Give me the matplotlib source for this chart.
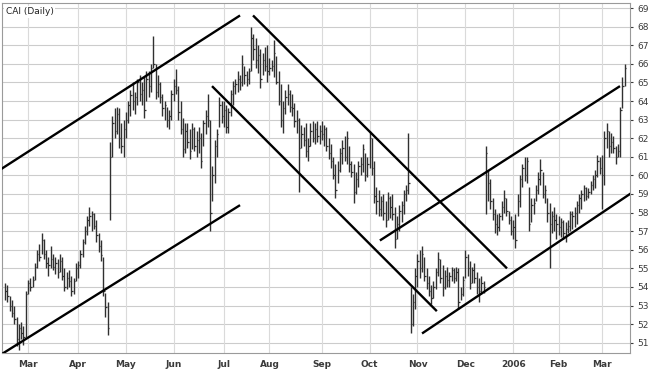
import numpy as np
import pandas as pd
import matplotlib
matplotlib.use("Agg")
import matplotlib.pyplot as plt

# CAI daily bars, 2005-02-14 .. 2006-03-15
highs = [
    # Feb
    54.2, 54.1, 53.5, 53.3, 53.0, 52.4, 52.0, 52.1, 51.9, 53.8,
    # Mar
    54.4, 54.5, 54.6, 55.3, 56.0, 56.3, 56.9, 56.6, 56.0, 55.6, 56.2,
    55.8, 55.6, 55.5, 55.8, 55.6, 55.0, 54.8, 54.9, 54.6, 54.5, 55.3,
    # Apr
    55.4, 56.0, 56.6, 57.3, 57.8, 58.3, 58.1, 58.0, 57.6, 56.9, 56.5,
    55.6, 53.7, 53.2, 61.8, 63.2, 63.6, 63.7, 63.6, 62.8, 63.0,
    # May
    63.4, 64.0, 64.6, 65.0, 64.5, 65.2, 65.4, 65.0, 65.3, 65.6, 65.6,
    66.0, 67.5, 66.0, 65.4, 65.0, 64.4, 64.0, 63.7, 63.5, 64.6,
    # Jun
    65.2, 65.7, 64.8, 64.0, 63.1, 62.8, 62.8, 62.5, 62.8, 62.6, 62.4,
    62.6, 62.3, 63.0, 63.5, 64.4, 63.0, 60.5, 61.9, 62.5, 64.2, 64.0,
    # Jul
    64.0, 63.8, 63.6, 64.6, 65.1, 65.2, 65.6, 65.4, 66.5, 65.9, 65.6,
    65.8, 68.0, 67.6, 67.4, 67.0, 66.8, 66.6, 66.9, 67.0,
    # Aug
    66.3, 66.2, 67.3, 66.4, 65.6, 64.9, 64.0, 64.6, 64.9, 64.6, 64.4,
    63.9, 63.5, 63.1, 62.7, 62.6, 62.8, 62.0, 62.8, 62.9, 62.8, 62.9, 62.7,
    # Sep
    62.9, 62.7, 62.6, 62.0, 61.7, 61.0, 60.6, 60.8, 61.5, 61.9, 62.1,
    62.4, 61.6, 60.8, 60.6, 60.2, 60.8, 61.0, 61.7, 61.2, 61.0,
    # Oct
    62.4, 62.0, 60.8, 59.4, 59.2, 58.9, 59.0, 58.6, 59.1, 58.9, 59.0,
    58.3, 57.8, 58.4, 58.6, 59.2, 59.5, 62.3, 54.0, 53.6, 55.0,
    # Nov
    55.8, 56.0, 56.2, 55.6, 55.0, 54.6, 54.1, 54.3, 55.0, 55.9, 55.5,
    55.2, 54.9, 55.1, 54.8, 55.1, 55.0, 55.1, 55.0, 54.0, 54.6,
    # Dec
    56.0, 55.8, 55.4, 55.1, 55.3, 54.8, 54.5, 54.6, 54.3, 61.6, 60.3,
    59.8, 58.8, 58.2, 57.9, 58.0, 58.6, 59.2, 58.8, 58.1, 57.8,
    # Jan 2006
    57.6, 57.9, 59.0, 60.0, 60.6, 61.0, 61.0, 59.4, 58.8, 58.8, 59.5,
    60.2, 60.9, 60.2, 59.5, 58.8, 58.5, 58.1, 58.3, 57.9,
    # Feb
    57.8, 57.7, 57.6, 57.5, 57.6, 58.1, 58.1, 58.3, 58.6, 59.0, 59.2,
    59.5, 59.4, 59.3, 59.7, 60.0, 60.3, 61.1, 61.0,
    # Mar
    61.1, 62.4, 62.8, 62.4, 62.3, 62.1, 61.6, 61.7, 63.7, 65.3, 66.0,
]
lows = [
    53.3, 53.2, 52.7, 52.4, 52.0, 50.8, 50.6, 51.2, 50.9, 51.3,
    53.6, 53.8, 54.0, 54.4, 55.0, 55.4, 55.8, 55.5, 55.0, 54.6, 55.0,
    54.9, 54.7, 54.5, 54.8, 54.4, 53.8, 53.9, 54.0, 53.5, 53.6, 54.3,
    54.5, 55.0, 55.6, 56.3, 56.8, 57.3, 57.0, 57.1, 56.4, 55.9, 55.4,
    53.5, 52.4, 51.4, 57.6, 61.0, 62.0, 62.2, 61.5, 61.2, 61.0,
    62.0, 62.8, 63.2, 63.5, 63.3, 63.8, 64.0, 63.8, 63.1, 64.0, 64.2,
    64.5, 65.8, 64.1, 64.2, 63.9, 63.2, 63.0, 62.6, 62.5, 63.0,
    64.0, 64.4, 63.0, 62.2, 61.0, 61.2, 61.5, 60.9, 61.4, 61.3, 61.0,
    61.2, 60.4, 61.6, 62.2, 62.6, 57.0, 58.6, 59.6, 61.0, 62.6, 62.8,
    62.6, 62.3, 62.3, 63.2, 63.8, 64.4, 64.5, 64.6, 64.8, 64.9, 64.8,
    64.9, 65.6, 66.2, 65.8, 65.5, 64.7, 65.4, 65.6, 65.0,
    65.4, 65.6, 65.3, 64.9, 63.8, 62.6, 62.3, 63.3, 63.8, 63.4, 63.2,
    62.6, 62.3, 59.1, 61.5, 61.6, 61.0, 60.8, 61.6, 61.8, 61.7, 61.8, 61.7,
    61.9, 61.6, 61.3, 60.9, 60.4, 59.8, 58.8, 59.6, 60.2, 60.6, 60.8,
    60.6, 60.2, 59.9, 58.5, 59.0, 59.4, 60.0, 60.2, 59.7, 59.9,
    60.4, 60.0, 58.5, 57.9, 57.8, 57.8, 57.6, 57.2, 57.6, 57.7, 57.6,
    56.1, 56.6, 57.0, 57.5, 57.9, 58.6, 59.0, 51.5, 51.9, 52.8,
    54.0, 54.5, 54.8, 54.3, 53.9, 53.5, 53.1, 53.4, 53.9, 54.6, 54.2,
    53.5, 53.9, 54.0, 54.0, 54.3, 54.2, 54.3, 52.8, 53.3, 53.5,
    54.5, 54.6, 53.9, 54.2, 54.2, 53.6, 53.2, 53.6, 53.7, 57.9, 58.6,
    58.2, 57.6, 56.9, 56.8, 57.0, 57.6, 58.0, 57.8, 57.4, 56.8,
    56.6, 56.1, 57.8, 58.3, 59.4, 59.7, 59.6, 57.0, 57.5, 57.9, 58.6,
    59.0, 59.5, 58.8, 58.5, 57.5, 55.0, 56.9, 57.0, 56.6,
    56.8, 56.7, 56.6, 56.4, 56.9, 57.0, 57.1, 57.2, 57.4, 58.0, 58.2,
    58.6, 58.7, 58.8, 59.0, 59.2, 59.3, 59.9, 60.1,
    58.2, 59.5, 61.5, 61.0, 61.2, 61.2, 60.6, 61.0, 61.0, 63.6, 64.8,
]
closes = [
    53.8, 53.5, 53.0, 52.6, 52.3, 51.2, 51.8, 51.5, 51.3, 53.6,
    54.2, 54.0, 54.4, 55.1, 55.8, 55.6, 56.5, 55.8, 55.3, 55.2, 55.5,
    55.1, 55.3, 54.8, 55.4, 54.6, 54.0, 54.5, 54.3, 53.8, 54.3, 55.0,
    55.2, 55.8, 56.4, 57.0, 57.6, 57.8, 57.9, 57.3, 56.8, 56.2, 55.7,
    53.8, 52.9, 51.8, 61.0, 62.8, 62.4, 63.3, 62.0, 61.6, 62.5,
    63.0, 63.8, 64.3, 64.0, 64.2, 65.0, 64.4, 64.6, 63.5, 65.2, 64.8,
    65.8, 66.0, 64.5, 64.9, 64.2, 63.6, 63.8, 63.0, 63.2, 64.4,
    64.8, 64.6, 63.4, 62.5, 61.4, 62.4, 61.8, 61.3, 62.5, 61.6, 61.9,
    62.0, 60.8, 62.8, 63.2, 63.0, 58.0, 60.0, 61.6, 62.2, 63.8, 63.2,
    63.5, 62.6, 63.4, 64.4, 64.8, 64.9, 65.2, 65.0, 66.0, 65.4, 65.2,
    65.6, 67.4, 66.8, 66.2, 66.5, 65.2, 66.2, 65.9, 65.6,
    65.8, 65.9, 66.6, 65.0, 64.0, 63.0, 63.6, 64.2, 64.4, 63.7, 63.6,
    62.9, 63.0, 61.5, 62.2, 61.9, 61.3, 61.6, 62.4, 62.0, 62.5, 62.1, 62.4,
    62.2, 62.5, 61.6, 61.2, 60.8, 60.0, 59.2, 60.3, 61.2, 61.5, 61.0,
    62.0, 60.6, 60.2, 59.1, 59.8, 60.5, 60.6, 61.4, 60.0, 60.6,
    62.0, 60.4, 58.9, 58.6, 58.2, 58.6, 58.0, 57.6, 58.8, 58.3, 57.9,
    56.6, 57.4, 58.1, 58.4, 59.0, 59.2, 59.6, 52.0, 53.2, 54.6,
    55.4, 55.0, 55.8, 54.6, 54.2, 53.8, 53.4, 54.0, 54.8, 55.5, 54.5,
    54.0, 54.6, 54.4, 54.6, 54.9, 54.5, 54.8, 53.2, 53.6, 54.4,
    55.6, 55.0, 54.2, 54.9, 54.5, 54.0, 53.8, 54.2, 54.0, 61.2, 59.6,
    58.6, 57.9, 57.4, 57.2, 57.8, 58.3, 58.8, 58.1, 57.6, 57.0,
    57.2, 56.5, 58.6, 59.8, 60.4, 60.0, 60.8, 57.4, 58.4, 58.5, 59.2,
    59.8, 60.3, 59.0, 59.2, 58.0, 57.4, 57.8, 57.6, 57.4,
    57.2, 57.5, 56.9, 57.1, 57.3, 57.9, 57.8, 58.0, 58.4, 58.8, 59.0,
    59.3, 58.9, 59.1, 59.5, 59.8, 60.0, 60.8, 60.4,
    60.0, 62.0, 62.4, 61.6, 61.8, 61.5, 61.0, 61.3, 63.5, 64.8, 65.8,
]

# trend channel lines: (start bar, start price, end bar, end price)
channels = [
    (-2.3, 60.3, 103.1, 68.6),
    (-1.4, 50.4, 103.1, 58.4),
    (108.8, 68.6, 220.3, 55.0),
    (90.8, 64.8, 189.5, 52.7),
    (164.5, 56.5, 269.9, 64.8),
    (183.0, 51.5, 275.5, 59.1),
]

holidays = ["2005-02-21", "2005-03-25", "2005-05-30", "2005-07-04", "2005-09-05",
            "2005-11-24", "2005-12-26", "2006-01-02", "2006-01-16", "2006-02-20"]
days = pd.bdate_range("2005-02-14", "2006-03-15")
days = days[~days.isin(pd.to_datetime(holidays))]
n = len(highs)
days = days[:n]
x = np.arange(n)

fig = plt.figure(figsize=(6.48, 3.71), dpi=100)
ax = fig.add_axes([2 / 648, 18 / 371, 628 / 648, 350 / 371])
ax.set_facecolor("white")

# grid
for v in range(51, 70):
    ax.axhline(v, color="#cccccc", lw=0.8, zorder=0)
month_pos, month_lab = [], []
for k in range(1, n):
    if days[k].month != days[k - 1].month:
        month_pos.append(k)
        month_lab.append("2006" if days[k].month == 1 else days[k].strftime("%b"))
for p in month_pos:
    ax.axvline(p, color="#dadada", lw=0.8, zorder=0)

# OHLC-style bars
ax.vlines(x, lows, highs, color="#303030", lw=1.0, zorder=2)
ax.hlines(closes, x, x + 0.6, color="#303030", lw=0.9, zorder=2)

for x0, y0, x1, y1 in channels:
    ax.plot([x0, x1], [y0, y1], color="black", lw=1.7, zorder=3, solid_capstyle="butt")

ax.set_xlim(-1.4, 274.3)
ax.set_ylim(50.45, 69.27)

ax.yaxis.tick_right()
ax.set_yticks(range(51, 70))
ax.set_yticklabels([str(v) for v in range(51, 70)])
ax.set_xticks(month_pos)
ax.set_xticklabels(month_lab)
ax.tick_params(axis="y", length=2, pad=3, labelsize=6.5, colors="#3a3a3a")
ax.tick_params(axis="x", length=0, pad=5, labelsize=6.5, colors="#3a3a3a")
for t in ax.get_xticklabels():
    t.set_fontweight("bold")

for s in ax.spines.values():
    s.set_color("#9a9a9a")
    s.set_linewidth(0.8)

ax.text(0.006, 0.988, "CAI (Daily)", transform=ax.transAxes, fontsize=6.5,
        color="#222222", va="top", ha="left",
        bbox=dict(facecolor="white", edgecolor="none", pad=1.0), zorder=5)

fig.savefig("out.png", dpi=100)
